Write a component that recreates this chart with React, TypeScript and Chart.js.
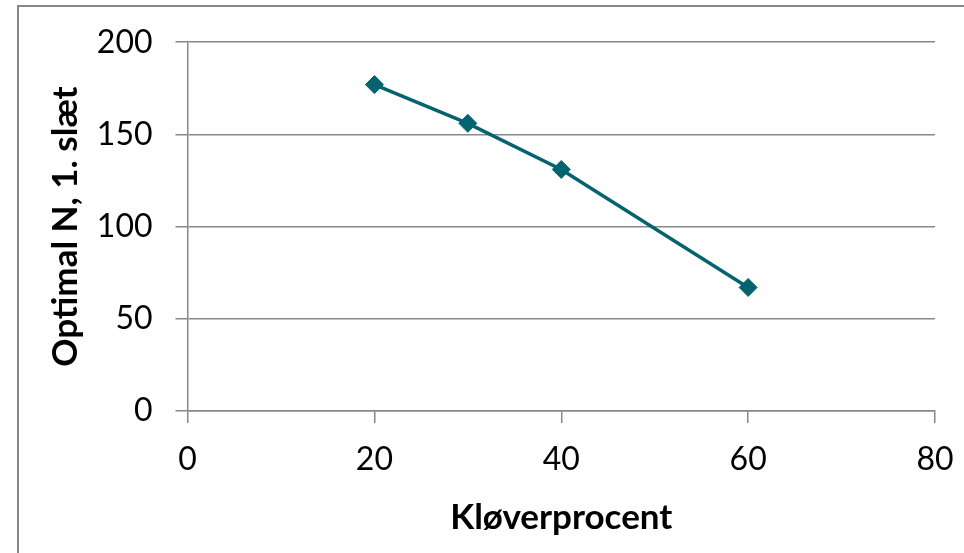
import React, { useEffect, useRef } from "react";
import { Chart, registerables } from "chart.js";

Chart.register(...registerables);

const cloverPercent = [20, 30, 40, 60];
const optimalN = [177, 156, 131, 67];
const xTicks = [0, 20, 40, 60, 80];
const yTicks = [0, 50, 100, 150, 200];
const xTitle = "Kløverprocent";
const yTitle = "Optimal N, 1. slæt";

const LINE = "#05636f";
const GRID = "#888888";

export default function App() {
  const ref = useRef<HTMLCanvasElement | null>(null);

  useEffect(() => {
    if (!ref.current) return;
    const chart = new Chart(ref.current, {
      type: "line",
      data: {
        datasets: [
          {
            data: cloverPercent.map((x, i) => ({ x, y: optimalN[i] })),
            borderColor: LINE,
            backgroundColor: LINE,
            borderWidth: 3.5,
            pointStyle: "rectRot",
            pointRadius: 9,
            pointBorderWidth: 1,
            pointBackgroundColor: LINE,
            pointBorderColor: LINE,
            tension: 0,
          },
        ],
      },
      options: {
        animation: false,
        responsive: false,
        maintainAspectRatio: false,
        devicePixelRatio: 1,
        layout: { padding: { left: 0, top: 41, right: 0, bottom: 0 } },
        plugins: { legend: { display: false }, tooltip: { enabled: false } },
        scales: {
          x: {
            type: "linear",
            min: 0,
            max: 80,
            afterBuildTicks: (s: any) => {
              s.ticks = xTicks.map((v) => ({ value: v }));
            },
            afterFit: (s: any) => {
              s.height = 553 - 411;
              s.paddingRight = 29;
              s.paddingLeft = 0;
            },
            ticks: {
              padding: 17,
              color: "#000",
              font: { family: "Lato", size: 32 },
            },
            grid: {
              drawOnChartArea: false,
              drawTicks: true,
              tickLength: 12,
              color: GRID,
              lineWidth: 1.5,
            },
            border: { display: true, color: GRID, width: 1.5 },
            title: {
              display: true,
              text: xTitle,
              color: "#000",
              font: { family: "Lato", size: 35, weight: "bold" },
              padding: { top: 0, bottom: 14 },
            },
          },
          y: {
            min: 0,
            max: 200,
            afterBuildTicks: (s: any) => {
              s.ticks = yTicks.map((v) => ({ value: v }));
            },
            afterFit: (s: any) => {
              s.width = 187.5;
            },
            ticks: {
              padding: 23,
              color: "#000",
              font: { family: "Lato", size: 32 },
            },
            grid: {
              drawOnChartArea: true,
              drawTicks: true,
              tickLength: 12,
              color: GRID,
              lineWidth: 1.5,
            },
            border: { display: true, color: GRID, width: 1.5 },
            title: {
              display: true,
              text: yTitle,
              color: "#000",
              font: { family: "Lato", size: 35, weight: "bold" },
              padding: { top: 45, bottom: 0 },
            },
          },
        },
      },
    });
    return () => chart.destroy();
  }, []);

  return (
    <div
      style={{
        position: "fixed",
        left: 0,
        top: 0,
        width: 964,
        height: 553,
        overflow: "hidden",
        background: "#fff",
      }}
    >
      <div
        style={{
          position: "absolute",
          left: 17,
          top: 5,
          width: 1100,
          height: 700,
          border: "2px solid #878787",
        }}
      />
      <canvas
        ref={ref}
        width={964}
        height={553}
        style={{ position: "absolute", left: 0, top: 0, width: 964, height: 553 }}
      />
    </div>
  );
}
